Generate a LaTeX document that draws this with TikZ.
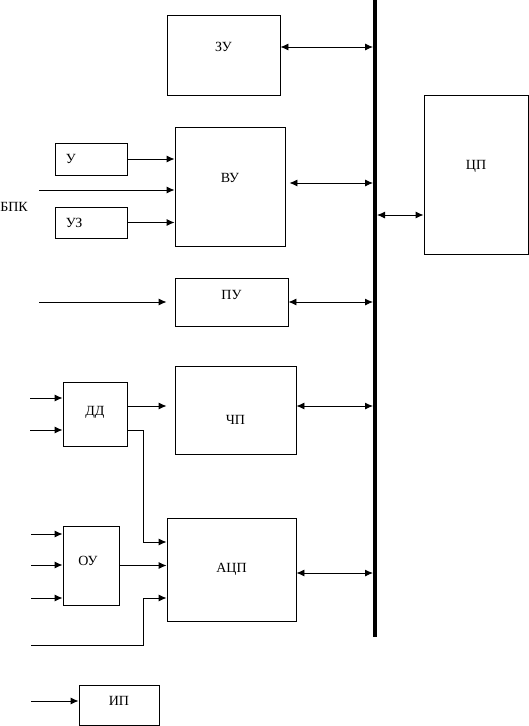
\documentclass[tikz,border=0pt]{standalone}
\usepackage{fontspec}
\setmainfont{Liberation Serif}
\usetikzlibrary{arrows.meta,positioning}

\begin{document}
\begin{tikzpicture}[x=1pt,y=-1pt,font=\fontsize{14}{16}\selectfont,
 blk/.style={draw,line width=0.9pt,inner sep=0pt},
 txt/.style={inner sep=0pt},
 arr/.style={line width=0.9pt,-{Latex[length=8pt,width=7pt]}},
 dbl/.style={line width=0.9pt,{Latex[length=8pt,width=7pt]}-{Latex[length=8pt,width=7pt]}}]
\useasboundingbox (0,0) rectangle (529,726);
% blocks
\node[blk,minimum width=113,minimum height=80,label={[txt,yshift=8]center:ЗУ}] (zu) at (223.5,55) {};
\node[blk,minimum width=110,minimum height=119,label={[txt,yshift=8.5]center:ВУ}] (vu) at (230,186.5) {};
\node[blk,minimum width=72,minimum height=32,label={[txt,anchor=west,xshift=11]west:У}] (u) at (91,159) {};
\node[blk,minimum width=72,minimum height=31,label={[txt,anchor=west,xshift=11]west:УЗ}] (uz) at (91,222.5) {};
\node[blk,minimum width=113,minimum height=48,label={[txt,yshift=7]center:ПУ}] (pu) at (231.5,302) {};
\node[blk,minimum width=104,minimum height=159,label={[txt,yshift=8]center:ЦП}] (cp) at (476,174.5) {};
\node[blk,minimum width=64,minimum height=64,label={[txt,yshift=2]center:ДД}] (dd) at (95,414) {};
\node[blk,minimum width=121,minimum height=88,label={[txt,yshift=-10]center:ЧП}] (chp) at (235.5,410) {};
\node[blk,minimum width=56,minimum height=79,label={[txt,yshift=5,xshift=-3]center:ОУ}] (ou) at (91,565.5) {};
\node[blk,minimum width=129,minimum height=103,label={[txt]center:АЦП}] (acp) at (231.5,569.5) {};
\node[blk,minimum width=80,minimum height=40,label={[txt,yshift=4]center:ИП}] (ip) at (119,705) {};
\node[txt] (bpk) at (14,207) {БПК};
% bus
\coordinate (bustop) at (375,0);
\coordinate (busend) at (375,637);
\coordinate (bus) at (373,0);
\coordinate (busr) at (377,0);
\draw[line width=4.5pt] (bustop) -- (busend);
% links to the bus
\draw[dbl] ([yshift=8]zu.east) -- ([yshift=8]zu.east -| bus);
\draw[dbl] ([xshift=4,yshift=3.5]vu.east) -- ([yshift=3.5]vu.east -| bus);
\draw[dbl] ([yshift=-40.5]cp.west -| busr) -- ([yshift=-40.5]cp.west);
\draw[dbl] (pu.east) -- (pu.east -| bus);
\draw[dbl] ([yshift=4]chp.east) -- ([yshift=4]chp.east -| bus);
\draw[dbl] ([yshift=-3.5]acp.east) -- ([yshift=-3.5]acp.east -| bus);
% inputs
\coordinate (bpkin) at (39,190);
\coordinate (puin) at (39,302);
\draw[arr] (u.east) -- (u.east -| vu.west);
\draw[arr] (bpkin) -- (bpkin -| vu.west);
\draw[arr] (uz.east) -- (uz.east -| vu.west);
\draw[arr] (puin) -- ([xshift=-8]puin -| pu.west);
\foreach \y [count=\i] in {398,430} {
 \coordinate (ddin\i) at (30,\y);
 \draw[arr] (ddin\i) -- (ddin\i -| dd.west);
}
\draw[arr] ([yshift=8]dd.east) -- ([xshift=-8,yshift=8]dd.east -| chp.west);
\draw[arr] ([yshift=-16]dd.east) -- ++(16,0) |- ([yshift=27.5]acp.west);
\foreach \y [count=\i] in {534,565,598} {
 \coordinate (ouin\i) at (31,\y);
 \draw[arr] (ouin\i) -- (ouin\i -| ou.west);
}
\draw[arr] (ou.east) -- (ou.east -| acp.west);
\coordinate (lowin) at (31,645);
\draw[arr] (lowin) -- ++(112,0) |- ([yshift=-28.5]acp.west);
\coordinate (ipin) at (31,701);
\draw[arr] (ipin) -- (ipin -| ip.west);
\end{tikzpicture}
\end{document}
